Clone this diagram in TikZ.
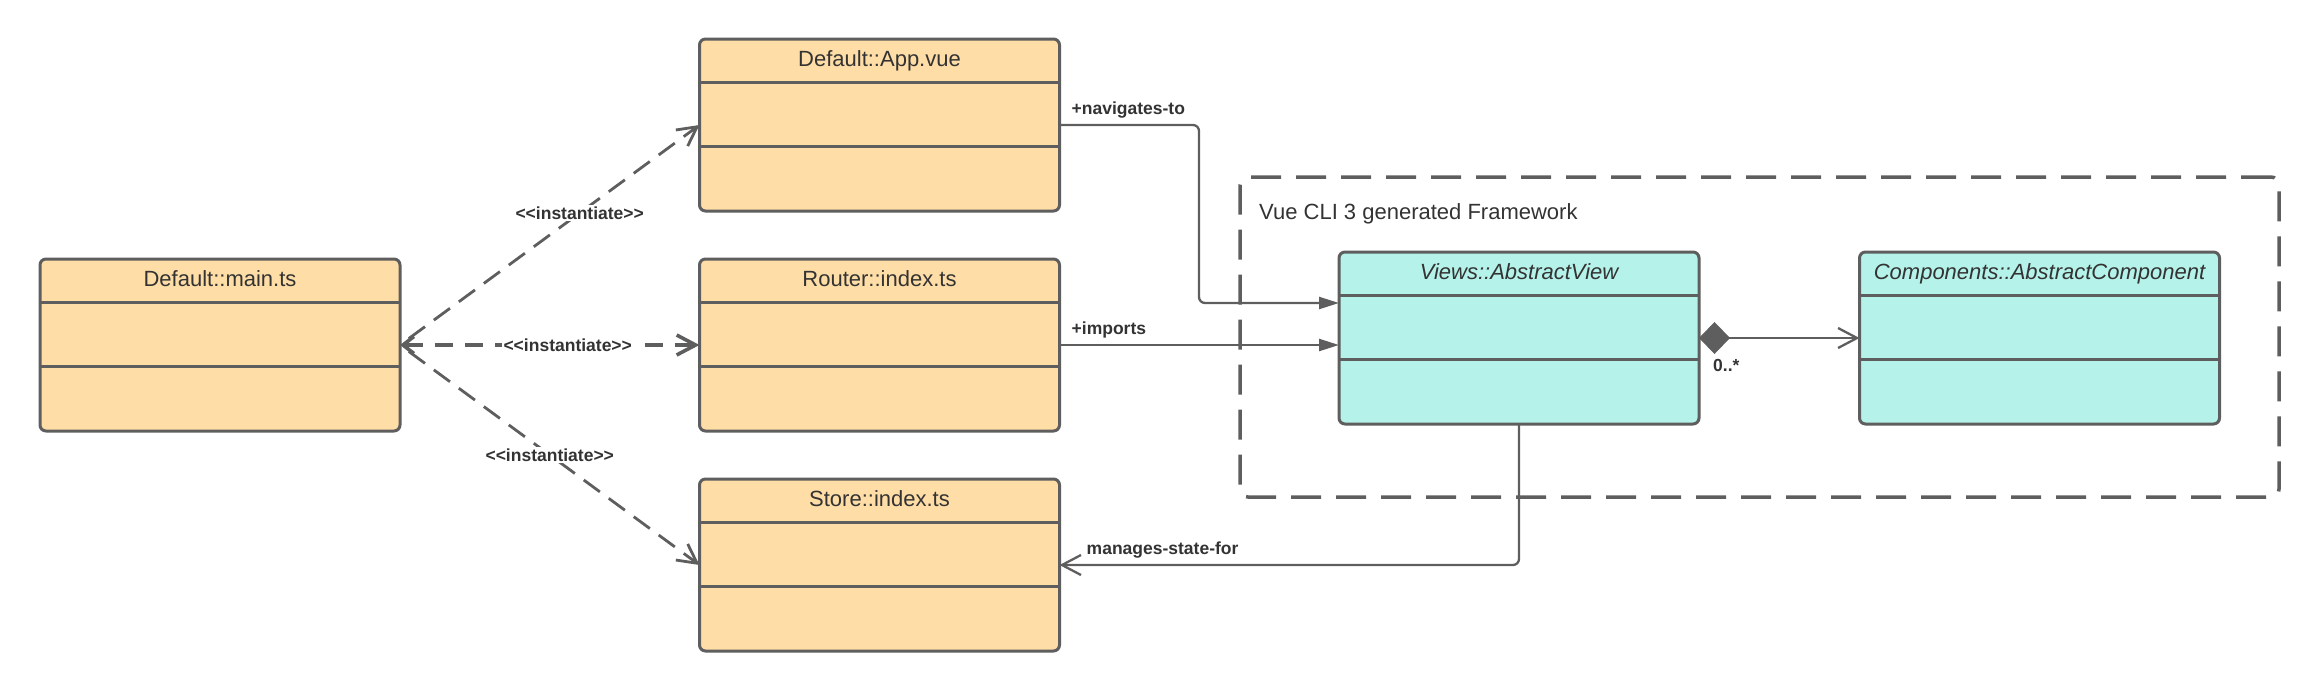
\documentclass[tikz,border=0pt]{standalone}
\usepackage{fontspec}
\setmainfont{Liberation Sans}
\usetikzlibrary{arrows.meta,calc}
\definecolor{strokec}{HTML}{5E5E5E}
\definecolor{peach}{HTML}{FFDDA6}
\definecolor{mint}{HTML}{B5F3EA}
\definecolor{txt}{HTML}{333333}
\newcommand{\llt}{<\kern0pt<}
\newcommand{\ggt}{>\kern0pt>}
\newcommand{\mydividers}[1]{%
  \draw[divline] ($(#1.north west)+(0,43)$) -- ($(#1.north east)+(0,43)$);
  \draw[divline] ($(#1.north west)+(0,107)$) -- ($(#1.north east)+(0,107)$);}
\begin{document}
\begin{tikzpicture}[x=1pt,y=-1pt,
  classbox/.style={draw=strokec, line width=3pt, rounded corners=6pt,
    minimum width=360pt, minimum height=172pt, inner sep=0pt, outer sep=0pt},
  orangebox/.style={classbox, fill=peach},
  mintbox/.style={classbox, fill=mint},
  divline/.style={draw=strokec, line width=3pt},
  titletext/.style={font=\fontsize{22}{26}\selectfont, text=txt, inner sep=0pt, anchor=base},
  lbl/.style={font=\fontsize{17.5}{20}\selectfont\bfseries, text=txt, inner sep=0pt},
  inst/.style={lbl, fill=white, inner sep=1.5pt},
  conn/.style={draw=strokec, line width=2.3pt, rounded corners=6pt},
  openhead/.style={Straight Barb[length=19pt,width=20pt]},
  dashmid/.style={draw=strokec, line width=3.6pt, dash pattern=on 18pt off 12pt},
  dashdiag/.style={draw=strokec, line width=2.8pt, dash pattern=on 20pt off 11pt, dash phase=20pt},
  framebox/.style={draw=strokec, line width=3.5pt, dash pattern=on 30pt off 15pt,
    rounded corners=8pt, minimum width=1039pt, minimum height=320pt, inner sep=0pt, outer sep=0pt}
]
\useasboundingbox (0,0) rectangle (2320,691);

% framework
\node[framebox] (fw) at (1759.5,337) {};
\node[font=\fontsize{22}{26}\selectfont, text=txt, inner sep=0pt, anchor=base west]
  (fwlabel) at ($(fw.north west)+(19,42)$) {Vue CLI 3 generated Framework};

% class boxes
\node[orangebox] (main) at (220,345) {};
\node[orangebox] (app) at (879.5,125) {};
\node[orangebox] (router) at (879.5,345) {};
\node[orangebox] (store) at (879.5,565) {};
\node[mintbox] (views) at (1519,338) {};
\node[mintbox] (comp) at (2039.5,338) {};

\mydividers{main}
\mydividers{app}
\mydividers{router}
\mydividers{store}
\mydividers{views}
\mydividers{comp}

\node[titletext] (maint) at ($(main.north)+(0,27)$) {Default::main.ts};
\node[titletext] (appt) at ($(app.north)+(0,27)$) {Default::App.vue};
\node[titletext] (routert) at ($(router.north)+(0,27)$) {Router::index.ts};
\node[titletext] (storet) at ($(store.north)+(0,27)$) {Store::index.ts};
\node[titletext] (viewst) at ($(views.north)+(0,27)$) {\itshape Views::AbstractView};
\node[titletext] (compt) at ($(comp.north)+(0,27)$) {\itshape Components::AbstractComponent};

% instantiate connectors
\draw[dashdiag, -{Straight Barb[length=19pt,width=20pt]}] (main.east) --
  node[inst, pos=0.6] (i1) {\llt instantiate\ggt} (app.west);
\draw[dashmid, {Straight Barb[length=11pt,width=17pt]}-{Straight Barb[length=19pt,width=20pt]}] (main.east) --
  node[inst, pos=0.56] (i2) {\llt instantiate\ggt} (router.west);
\draw[dashdiag, -{Straight Barb[length=19pt,width=20pt]}] (main.east) --
  node[inst, pos=0.5] (i3) {\llt instantiate\ggt} (store.west);

% navigates-to
\coordinate (navbend) at (1199,125);
\coordinate (navend) at ($(views.west)+(0,-35)$);
\draw[conn, -{Triangle[length=20pt,width=12pt]}] (app.east) -- (navbend) -- (navbend |- navend) -- (navend);
\node[lbl, anchor=base west] (navl) at ($(app.east)+(12,-10.5)$) {+navigates-to};

% imports
\draw[conn, -{Triangle[length=20pt,width=12pt]}] (router.east) -- (router.east -| views.west);
\node[lbl, anchor=base west] (impl) at ($(router.east)+(12,-10.5)$) {+imports};

% composition
\draw[conn, {Diamond[length=31pt,width=32pt]}-{Straight Barb[length=19pt,width=20pt]}] (views.east) -- (comp.west);
\node[lbl, anchor=base west] (mult) at ($(views.east)+(14,33.5)$) {0..*};

% manages-state-for
\draw[conn, -{Straight Barb[length=19pt,width=20pt]}] (views.south) |- (store.east);
\node[lbl, anchor=base west] (manl) at ($(store.east)+(27,-10.5)$) {manages-state-for};
\end{tikzpicture}
\end{document}
